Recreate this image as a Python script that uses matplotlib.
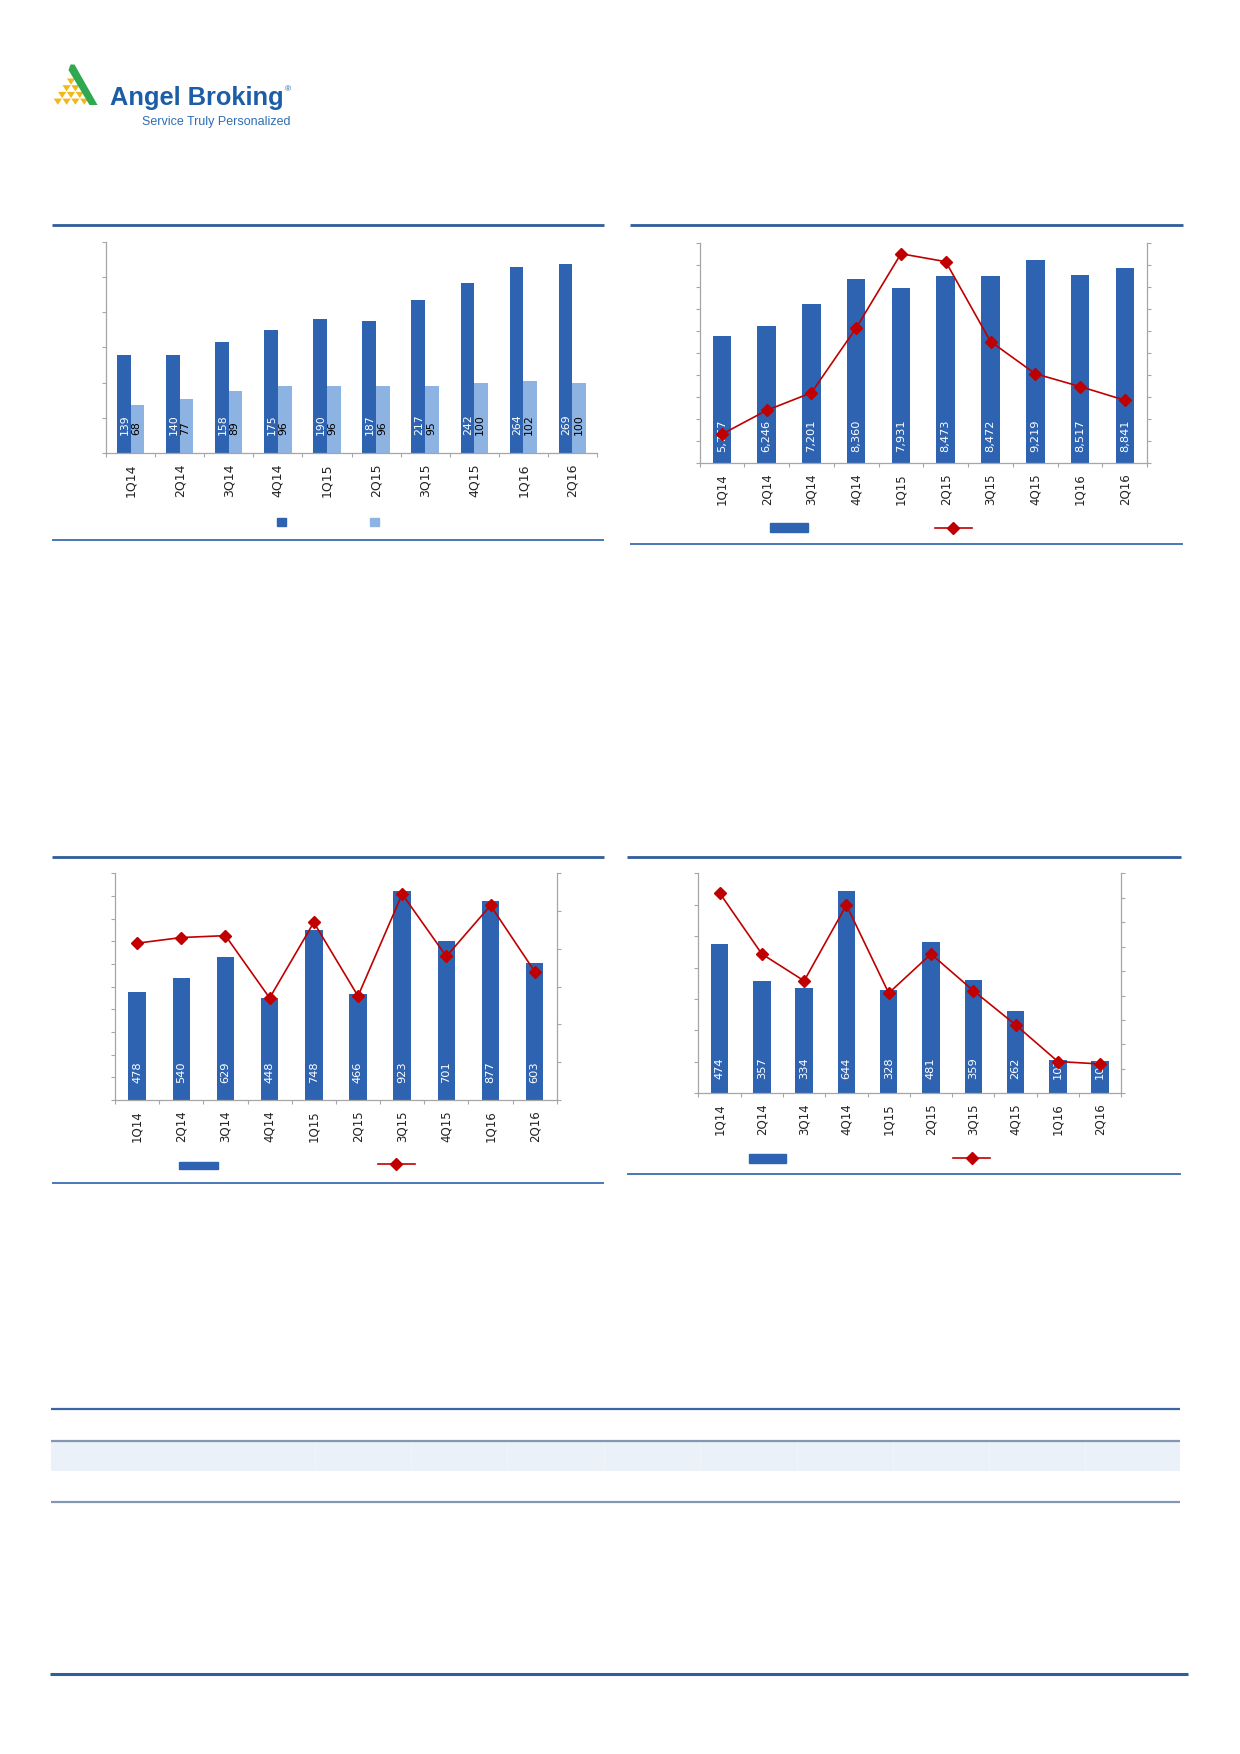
import matplotlib
matplotlib.use("Agg")
import matplotlib.pyplot as plt
from matplotlib.patches import Rectangle, Polygon
import numpy as np

W, H = 1240, 1754

quarters = ["1Q14", "2Q14", "3Q14", "4Q14", "1Q15", "2Q15", "3Q15", "4Q15", "1Q16", "2Q16"]

# chart 1 : two bar series
ch1_dark = [139, 140, 158, 175, 190, 187, 217, 242, 264, 269]
ch1_light = [68, 77, 89, 96, 96, 96, 95, 100, 102, 100]

# chart 2 : bars + line (right axis, %)
ch2_bars = [5767, 6246, 7201, 8360, 7931, 8473, 8472, 9219, 8517, 8841]
ch2_line = [-3.4, 2.0, 6.0, 20.7, 37.5, 35.7, 17.6, 10.3, 7.4, 4.3]

# chart 3
ch3_bars = [478, 540, 629, 448, 748, 466, 923, 701, 877, 603]
ch3_line = [8.3, 8.6, 8.7, 5.4, 9.4, 5.5, 10.9, 7.6, 10.3, 6.8]

# chart 4
ch4_bars = [474, 357, 334, 644, 328, 481, 359, 262, 107, 103]
ch4_line = [8.2, 5.7, 4.6, 7.7, 4.1, 5.7, 4.2, 2.8, 1.3, 1.2]

BLUE = "#2E63B2"
LIGHT = "#8DB3E2"
RED = "#C00000"
GREY = "#A6A6A6"
RULE = "#2F5C9C"
RULE2 = "#4A78B5"

plt.rcParams["font.family"] = ["DejaVu Sans"]

fig = plt.figure(figsize=(W / 100, H / 100), dpi=100)

# overlay in pixel coordinates for page decorations
deco = fig.add_axes([0, 0, 1, 1], zorder=-5)
deco.set_xlim(0, W)
deco.set_ylim(H, 0)
deco.axis("off")


def ax_px(x0, y0, x1, y1):
    return fig.add_axes([x0 / W, 1 - y1 / H, (x1 - x0) / W, (y1 - y0) / H])


def hline(y, x0, x1, color, lw):
    deco.plot([x0, x1], [y, y], color=color, lw=lw, solid_capstyle="butt")


def setup(ax, ymax, ystep, fs):
    n = len(quarters)
    ax.set_facecolor("none")
    ax.set_xlim(-0.5, n - 0.5)
    ax.set_ylim(0, ymax)
    ax.set_yticks(np.arange(0, ymax + ystep / 2, ystep))
    ax.set_yticklabels([])
    ax.set_xticks(np.arange(-0.5, n, 1))
    ax.set_xticklabels([])
    ax.set_xticks(np.arange(n), minor=True)
    ax.set_xticklabels(quarters, minor=True, rotation=90, fontsize=fs, color="#222222")
    ax.tick_params(axis="x", which="minor", length=0, pad=7.5)
    ax.tick_params(axis="both", which="major", length=2.6, width=0.8, color=GREY)
    for s in ["top", "right"]:
        ax.spines[s].set_visible(False)
    for s in ["left", "bottom"]:
        ax.spines[s].set_color(GREY)
        ax.spines[s].set_linewidth(0.9)


def right_axis(ax, lo, hi, step, values):
    ax2 = ax.twinx()
    ax2.set_facecolor("none")
    ax2.set_ylim(lo, hi)
    ax2.set_yticks(np.arange(lo, hi + step / 2, step))
    ax2.set_yticklabels([])
    ax2.tick_params(axis="y", length=2.6, width=0.8, color=GREY)
    for s in ["top", "left", "bottom"]:
        ax2.spines[s].set_visible(False)
    ax2.spines["right"].set_color(GREY)
    ax2.spines["right"].set_linewidth(0.9)
    ax2.plot(np.arange(len(values)), values, color=RED, lw=1.2,
             marker="D", ms=6, markeredgecolor=RED, zorder=5)
    return ax2


def bar_labels(ax, xs, vals, gap, fs, color, fmt="{}"):
    for xi, v in zip(xs, vals):
        ax.annotate(fmt.format(v), xy=(xi, 0), xytext=(0, gap),
                    textcoords="offset pixels", rotation=90, ha="center",
                    va="bottom", color=color, fontsize=fs, zorder=4)


x = np.arange(len(quarters))

# ---------------- chart 1 ----------------
hline(225, 52, 604, RULE, 2.0)
hline(539.5, 52, 604, RULE2, 1.4)
ax1 = ax_px(106, 241.7, 597, 453.3)
setup(ax1, 300, 50, 9)
bw = 0.28
ax1.bar(x - bw / 2, ch1_dark, width=bw, color=BLUE, zorder=2)
ax1.bar(x + bw / 2, ch1_light, width=bw, color=LIGHT, zorder=2)
bar_labels(ax1, x - bw / 2 + 0.02, ch1_dark, 18, 7.8, "white")
bar_labels(ax1, x + bw / 2 - 0.02, ch1_light, 18, 7.8, "black")
deco.add_patch(Rectangle((276.5, 517.7), 9, 8.5, color=BLUE))
deco.add_patch(Rectangle((370, 517.7), 8.6, 8.5, color=LIGHT))

# ---------------- chart 2 ----------------
hline(225, 630, 1183, RULE, 2.0)
hline(544, 630, 1183, RULE2, 1.4)
ax2 = ax_px(699.5, 242.7, 1147.2, 463.3)
setup(ax2, 10000, 1000, 8.5)
ax2.bar(x, ch2_bars, width=0.415, color=BLUE, zorder=2)
bar_labels(ax2, x, ch2_bars, 11.7, 8.2, "white", "{:,}")
right_axis(ax2, -10, 40, 5, ch2_line)
deco.add_patch(Rectangle((770, 523.3), 38, 9, color=BLUE))
deco.plot([934.5, 972.2], [527.7, 527.7], color=RED, lw=1.2)
deco.plot([953.3], [527.7], marker="D", ms=6, color=RED)

# ---------------- chart 3 ----------------
hline(856.7, 52, 604, RULE, 2.0)
hline(1183.3, 52, 604, RULE2, 1.4)
ax3 = ax_px(115, 873.3, 556.8, 1100)
setup(ax3, 1000, 100, 8.5)
ax3.bar(x, ch3_bars, width=0.396, color=BLUE, zorder=2)
bar_labels(ax3, x, ch3_bars, 16.7, 8.2, "white")
right_axis(ax3, 0, 12, 2, ch3_line)
deco.add_patch(Rectangle((178.6, 1161.7), 39.3, 7.6, color=BLUE))
deco.plot([377.5, 415], [1164.3, 1164.3], color=RED, lw=1.2)
deco.plot([396.2], [1164.3], marker="D", ms=6, color=RED)

# ---------------- chart 4 ----------------
hline(856.7, 627.4, 1180.5, RULE, 2.0)
hline(1174, 627.4, 1180.5, RULE2, 1.4)
ax4 = ax_px(698.4, 873.3, 1121.3, 1093.3)
setup(ax4, 700, 100, 8.5)
ax4.bar(x, ch4_bars, width=0.41, color=BLUE, zorder=2)
bar_labels(ax4, x, ch4_bars, 14, 8.2, "white")
right_axis(ax4, 0, 9, 1, ch4_line)
deco.add_patch(Rectangle((748.7, 1154.3), 37, 8.4, color=BLUE))
deco.plot([953, 990], [1158.3, 1158.3], color=RED, lw=1.2)
deco.plot([971.5], [1158.3], marker="D", ms=6, color=RED)

# ---------------- table ----------------
deco.add_patch(Rectangle((51, 1441), 1129, 30, color="#EAF1F8", lw=0))
for cx in [315, 411, 507, 604, 700, 797, 893, 989, 1085]:
    deco.plot([cx, cx], [1442, 1470], color="white", lw=0.5, alpha=0.45)
hline(1409.3, 51, 1180, "#3A66A8", 1.6)
hline(1441, 51, 1180, "#8497B0", 1.6)
hline(1501.7, 51, 1180, "#8497B0", 1.6)

# footer rule
hline(1674, 50, 1188, "#2E5E9E", 2.2)

# ---------------- logo ----------------
yel = "#F2B71A"
for r in range(4):
    top = 78.5 + r * 6.7
    for i in range(r + 1):
        cx = 71.0 + (i - r / 2) * 8.8
        deco.add_patch(Polygon([(cx - 4.1, top), (cx + 4.1, top), (cx, top + 6.2)],
                               closed=True, color=yel, lw=0))
deco.add_patch(Polygon([(70.5, 64.5), (74.5, 64.5), (97.5, 105), (89.5, 105), (68.5, 70)],
                       closed=True, color="#2FA84F", lw=0))
deco.text(110, 105, "Angel Broking", fontsize=18.3, fontweight="bold",
          family=["Liberation Sans", "DejaVu Sans"], color="#1B5DA6",
          ha="left", va="baseline")
deco.text(285, 91, "\u00ae", fontsize=6, family=["Liberation Sans", "DejaVu Sans"],
          color="#1B5DA6", ha="left", va="baseline")
deco.text(141.5, 124.5, "Service Truly Personalized", fontsize=9.0,
          family=["Liberation Sans", "DejaVu Sans"], color="#2E6DB4",
          ha="left", va="baseline")

fig.savefig("out.png", dpi=100, facecolor="white")
